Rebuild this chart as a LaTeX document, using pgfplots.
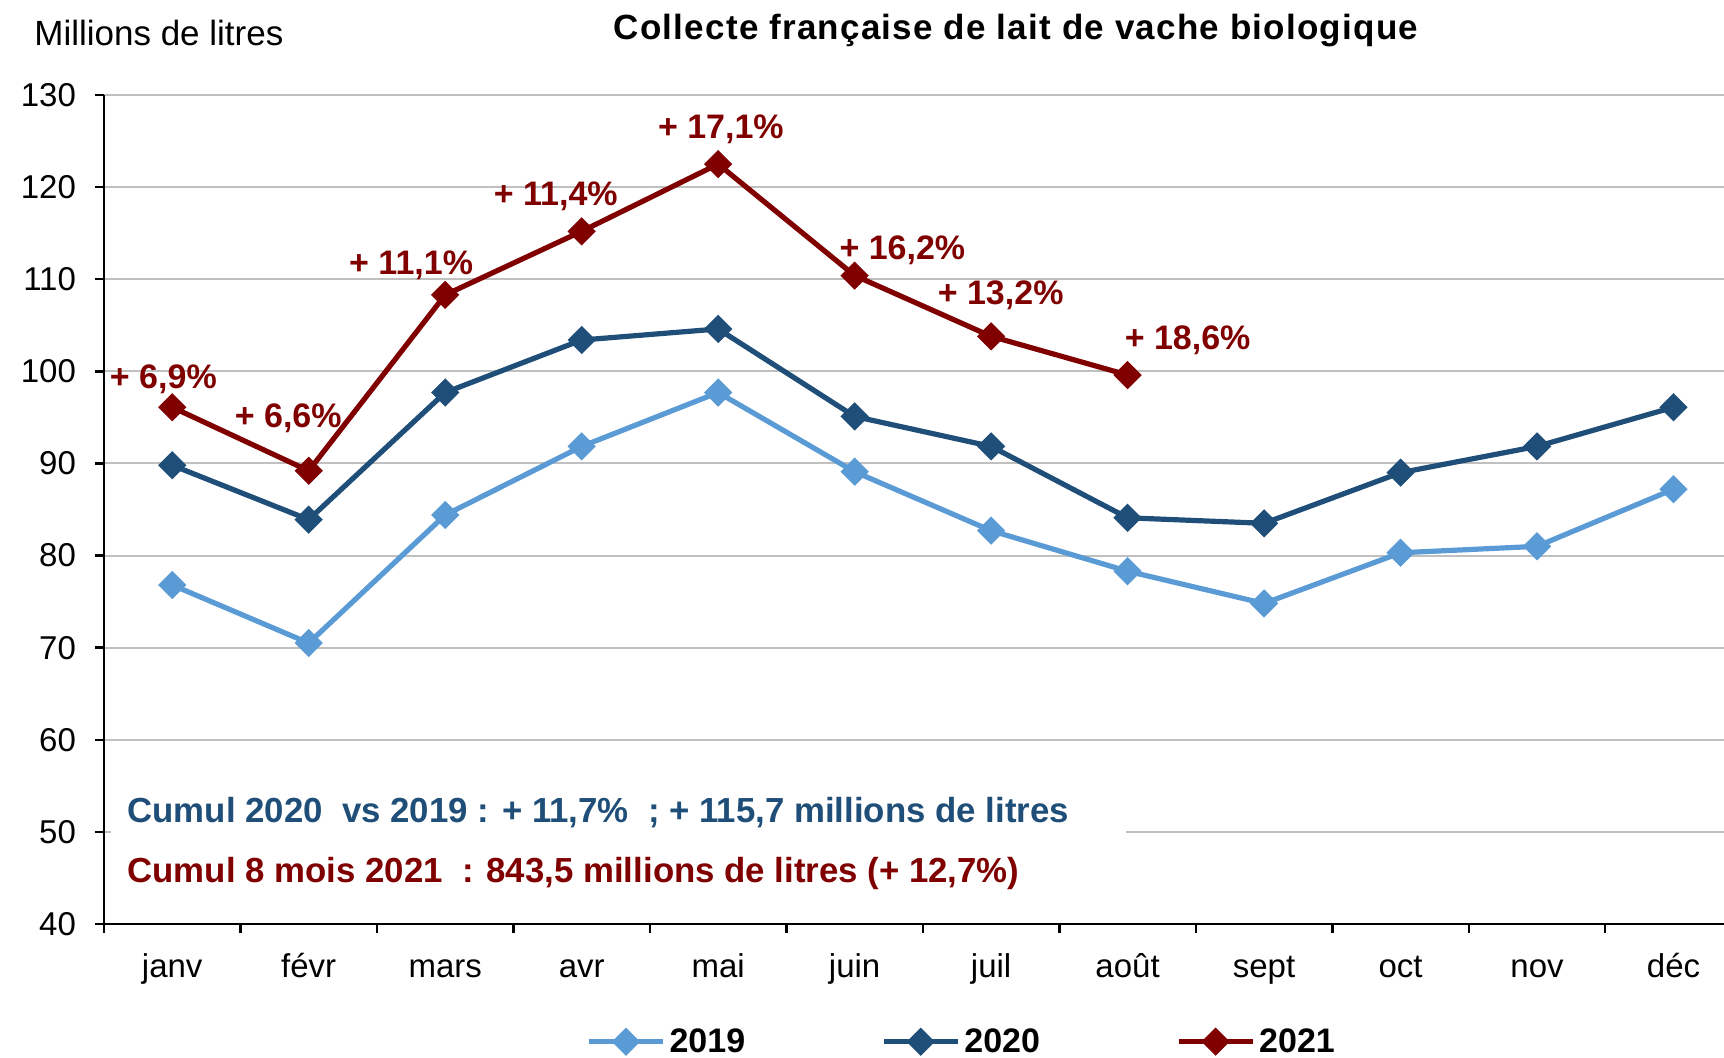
\documentclass[border=0pt]{standalone}
\usepackage{pgfplots}
\pgfplotsset{compat=1.18}
\usepackage{fontspec}
\setmainfont{Liberation Sans}
\definecolor{c19}{HTML}{5B9BD5}
\definecolor{c20}{HTML}{1F4E79}
\definecolor{c21}{HTML}{800000}
\definecolor{gridc}{HTML}{C0C0C0}
\begin{document}
\begin{tikzpicture}
\useasboundingbox (0,0) rectangle (862pt,529pt);
\begin{axis}[
  at={(52pt,67pt)}, anchor=south west,
  scale only axis, width=810pt, height=414.5pt,
  xmin=-0.5, xmax=11.37, ymin=40, ymax=130,
  ytick={40,50,...,130},
  axis x line*=bottom, axis y line*=left,
  tick align=outside,
  xtick={-0.5,0.5,...,10.5}, xticklabels={},
  extra x ticks={0,1,...,11},
  extra x tick labels={janv,févr,mars,avr,mai,juin,juil,août,sept,oct,nov,déc},
  extra x tick style={major tick length=0pt, xticklabel style={yshift=-11pt, text height=12pt, text depth=3.5pt}},
  ymajorgrids, grid style={gridc, line width=1pt},
  axis line style={line width=1.2pt, black},
  major tick length=4.5pt,
  tick style={line width=1.2pt, black},
  ticklabel style={font=\fontsize{16.5}{18}\selectfont},
  /pgf/number format/assume math mode=true,
  yticklabel style={xshift=-6pt},
  clip=false,
  legend columns=3,
  legend style={draw=none, fill=none, inner sep=1pt, at={(0.530,-0.142)}, anchor=center,
    font=\bfseries\fontsize{17}{20}\selectfont,
    /tikz/every even column/.append style={column sep=66pt}},
  legend image code/.code={\draw[mark repeat=2,mark phase=2,#1] plot coordinates {(0pt,0pt) (18.5pt,0pt) (37pt,0pt)};},
  every axis plot/.append style={line width=2.6pt, mark=square*, mark size=3.7pt, mark options={rotate=45, solid}},
]
\addplot[c19] coordinates {(0,76.8) (1,70.5) (2,84.4) (3,91.85) (4,97.7) (5,89.1) (6,82.7) (7,78.3) (8,74.8) (9,80.3) (10,81.0) (11,87.2)};
\addlegendentry{2019}
\addplot[c20] coordinates {(0,89.8) (1,83.9) (2,97.7) (3,103.4) (4,104.6) (5,95.1) (6,91.85) (7,84.1) (8,83.5) (9,89.0) (10,91.85) (11,96.1)};
\addlegendentry{2020}
\addplot[c21] coordinates {(0,96.1) (1,89.2) (2,108.3) (3,115.2) (4,122.5) (5,110.4) (6,103.8) (7,99.6)};
\addlegendentry{2021}
\fill[white] (axis cs:-0.45,41.5) rectangle (axis cs:6.99,56.8);
\begin{scope}[every node/.style={c21, font=\bfseries\fontsize{17}{20}\selectfont}]
\node at (axis cs:-0.065,99.15) {+ 6,9\%};
\node at (axis cs:0.85,94.95) {+ 6,6\%};
\node at (axis cs:1.75,111.55) {+ 11,1\%};
\node at (axis cs:2.81,119.05) {+ 11,4\%};
\node at (axis cs:4.02,126.25) {+ 17,1\%};
\node at (axis cs:5.35,113.15) {+ 16,2\%};
\node at (axis cs:6.07,108.25) {+ 13,2\%};
\node at (axis cs:7.44,103.35) {+ 18,6\%};
\end{scope}
\node[anchor=west, c20, font=\bfseries\fontsize{17.4}{20}\selectfont, inner sep=0pt] at (axis cs:-0.33,52.1) {Cumul 2020 \ vs 2019 : + 11,7\% \ ; + 115,7 millions de litres};
\node[anchor=west, c21, font=\bfseries\fontsize{17.4}{20}\selectfont, inner sep=0pt] at (axis cs:-0.33,45.45) {Cumul 8 mois 2021 \ : 843,5 millions de litres (+ 12,7\%)};
\end{axis}
\node[font=\bfseries\fontsize{17.5}{20}\selectfont\addfontfeatures{LetterSpace=3.5}] at (508pt,513.5pt) {Collecte française de lait de vache biologique};
\node[anchor=west, font=\fontsize{17.5}{20}\selectfont, inner sep=0pt] at (17pt,512.5pt) {Millions de litres};
\end{tikzpicture}
\end{document}
